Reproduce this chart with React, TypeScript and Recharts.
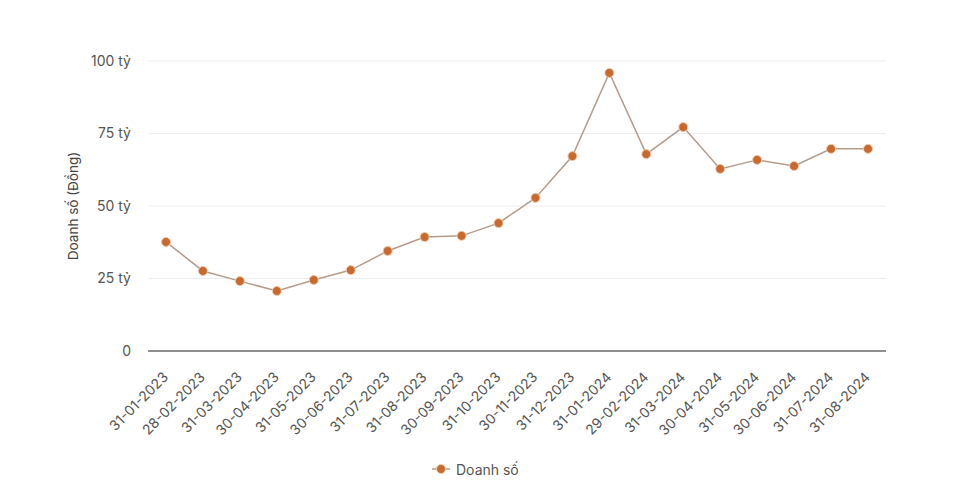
import React from "react";
import { LineChart, Line, XAxis, YAxis, CartesianGrid, Legend } from "recharts";

const dates = [
  "31-01-2023", "28-02-2023", "31-03-2023", "30-04-2023", "31-05-2023",
  "30-06-2023", "31-07-2023", "31-08-2023", "30-09-2023", "31-10-2023",
  "30-11-2023", "31-12-2023", "31-01-2024", "29-02-2024", "31-03-2024",
  "30-04-2024", "31-05-2024", "30-06-2024", "31-07-2024", "31-08-2024",
];
const sales = [
  37.6, 27.6, 24.1, 20.7, 24.5, 27.9, 34.5, 39.3, 39.7, 44.1,
  52.8, 67.2, 95.9, 67.9, 77.2, 62.8, 65.9, 63.8, 69.7, 69.7,
];
const yTicks = [0, 25, 50, 75, 100];
const seriesName = "Doanh số";
const yLabel = "Doanh số (Đồng)";

const data = dates.map((d, i) => ({ date: d, value: sales[i] }));

const FONT = "Inter, 'Noto Sans', sans-serif";
const LINE_COLOR = "#b39c8c";
const DOT_COLOR = "#c8692f";

const XTick = (props: any) => {
  const { x, y, payload } = props;
  return (
    <g transform={`translate(${x + 3},${y + 21})`}>
      <text
        textAnchor="end"
        transform="rotate(-45)"
        fill="#555"
        fontSize={14}
        fontFamily={FONT}
      >
        {payload.value}
      </text>
    </g>
  );
};

const YLabel = (props: any) => {
  const { viewBox } = props;
  const cx = viewBox.x + 60;
  const cy = viewBox.y + viewBox.height / 2;
  return (
    <text
      x={cx}
      y={cy}
      textAnchor="middle"
      dominantBaseline="central"
      transform={`rotate(-90, ${cx}, ${cy})`}
      fill="#444"
      fontSize={13.5}
      fontFamily={FONT}
    >
      {yLabel}
    </text>
  );
};

const LegendContent = () => (
  <div
    style={{
      height: 20,
      display: "flex",
      alignItems: "center",
      justifyContent: "flex-start",
      paddingLeft: 418,
      fontFamily: FONT,
      fontSize: 14,
      color: "#555",
    }}
  >
    <svg width={20} height={12} style={{ marginRight: 5 }}>
      <line x1={1} y1={6} x2={19} y2={6} stroke={LINE_COLOR} strokeWidth={1.5} />
      <circle cx={10} cy={6} r={4.5} fill={DOT_COLOR} stroke="#f1c9a8" strokeWidth={1} />
    </svg>
    <span>{seriesName}</span>
  </div>
);

export default function App() {
  return (
    <LineChart
      width={941}
      height={488}
      data={data}
      margin={{ top: 53, right: 63, left: 5, bottom: 17 }}
    >
      <CartesianGrid horizontal vertical={false} stroke="#eeeeee" />
      <XAxis
        dataKey="date"
        interval={0}
        padding={{ left: 18, right: 18 }}
        tickLine={false}
        tickSize={6}
        tickMargin={0}
        height={108}
        axisLine={{ stroke: "#6b6b6b", strokeWidth: 1.5 }}
        tick={<XTick />}
      />
      <YAxis
        domain={[0, 100]}
        ticks={yTicks}
        width={135}
        axisLine={false}
        tickLine={false}
        tickSize={6}
        tickMargin={11}
        tickFormatter={(v: number) => (v === 0 ? "0" : `${v} tỷ`)}
        tick={{ fill: "#555", fontSize: 14, fontFamily: FONT }}
        label={<YLabel />}
      />
      <Legend verticalAlign="bottom" height={20} content={<LegendContent />} />
      <Line
        type="linear"
        dataKey="value"
        name={seriesName}
        stroke={LINE_COLOR}
        strokeWidth={1.5}
        dot={{ r: 4.5, fill: DOT_COLOR, stroke: "#f1c9a8", strokeWidth: 1 }}
        activeDot={false}
        isAnimationActive={false}
      />
    </LineChart>
  );
}
